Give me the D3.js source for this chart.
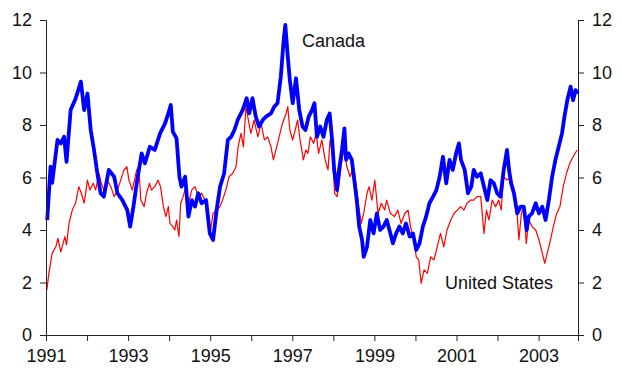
<!DOCTYPE html>
<html>
<head>
<meta charset="utf-8">
<script src="https://cdn.jsdelivr.net/npm/d3@7"></script>
<style>
  body { margin: 0; background: #fff; }
  svg { display: block; font-family: Arial, "Liberation Sans", sans-serif; }
</style>
</head>
<body>
<svg width="622" height="371"></svg>
<script>
var width = 622;
var height = 371;

// Canada (blue, thick)
var canadaYears = [1991.03, 1991.11, 1991.15, 1991.28, 1991.36, 1991.44, 1991.50, 1991.60, 1991.72, 1991.85,
  1991.93, 1992.01, 1992.09, 1992.17, 1992.25, 1992.33, 1992.41, 1992.53, 1992.66, 1992.74,
  1992.86, 1992.98, 1993.05, 1993.13, 1993.21, 1993.33, 1993.41, 1993.53, 1993.65, 1993.78,
  1993.90, 1993.98, 1994.04, 1994.09, 1994.18, 1994.25, 1994.30, 1994.39, 1994.47, 1994.55,
  1994.63, 1994.71, 1994.79, 1994.90, 1994.99, 1995.07, 1995.16, 1995.24, 1995.34, 1995.43,
  1995.51, 1995.59, 1995.67, 1995.79, 1995.89, 1995.95, 1996.03, 1996.11, 1996.19, 1996.28,
  1996.36, 1996.48, 1996.56, 1996.64, 1996.72, 1996.79, 1996.83, 1996.89, 1996.94, 1997.01,
  1997.09, 1997.17, 1997.25, 1997.32, 1997.40, 1997.48, 1997.54, 1997.60, 1997.68, 1997.76,
  1997.84, 1997.91, 1997.97, 1998.02, 1998.09, 1998.14, 1998.21, 1998.27, 1998.31, 1998.37,
  1998.45, 1998.52, 1998.57, 1998.63, 1998.70, 1998.74, 1998.82, 1998.90, 1998.98, 1999.06,
  1999.14, 1999.22, 1999.30, 1999.39, 1999.45, 1999.53, 1999.61, 1999.69, 1999.77, 1999.86,
  1999.94, 2000.02, 2000.10, 2000.18, 2000.26, 2000.34, 2000.43, 2000.51, 2000.59, 2000.67,
  2000.75, 2000.83, 2000.91, 2000.99, 2001.06, 2001.11, 2001.20, 2001.28, 2001.36, 2001.42,
  2001.50, 2001.59, 2001.67, 2001.75, 2001.83, 2001.91, 2001.99, 2002.07, 2002.15, 2002.23,
  2002.28, 2002.33, 2002.40, 2002.48, 2002.56, 2002.64, 2002.71, 2002.76, 2002.84, 2002.93,
  2003.01, 2003.09, 2003.17, 2003.25, 2003.33, 2003.41, 2003.49, 2003.57, 2003.63, 2003.70,
  2003.78, 2003.84, 2003.90, 2003.96];
var canadaRates = [4.38, 6.41, 5.80, 7.43, 7.30, 7.55, 6.60, 8.57, 9.00, 9.65,
  8.57, 9.20, 7.80, 7.05, 6.17, 5.40, 5.27, 6.29, 6.03, 5.40,
  5.14, 4.76, 4.13, 4.89, 5.78, 6.92, 6.54, 7.17, 7.05, 7.68,
  8.06, 8.44, 8.76, 7.75, 7.49, 6.03, 5.65, 6.03, 4.51, 5.14,
  4.89, 5.40, 5.02, 5.14, 3.87, 3.62, 4.80, 5.65, 6.16, 7.43,
  7.55, 7.81, 8.19, 8.57, 9.02, 8.44, 9.02, 8.32, 7.94, 8.19,
  8.32, 8.44, 8.70, 8.83, 9.84, 11.24, 11.81, 10.60, 9.71, 8.83,
  9.78, 8.57, 7.94, 7.81, 8.32, 8.57, 8.83, 7.55, 7.94, 7.55,
  8.19, 8.44, 7.43, 6.29, 5.52, 6.29, 7.05, 7.87, 6.67, 6.92,
  6.67, 5.78, 5.14, 4.13, 3.62, 2.98, 3.36, 4.38, 3.87, 4.63,
  4.00, 4.13, 4.38, 3.87, 3.49, 3.87, 4.13, 3.87, 4.25, 3.75,
  3.87, 3.24, 3.49, 4.13, 4.51, 5.02, 5.27, 5.52, 6.03, 6.79,
  5.78, 6.67, 6.29, 6.92, 7.30, 6.67, 6.29, 5.40, 5.65, 6.29,
  6.03, 6.16, 5.65, 5.14, 5.90, 5.78, 5.40, 5.27, 6.29, 7.05,
  6.29, 5.78, 5.40, 4.63, 4.89, 4.89, 4.00, 4.51, 4.63, 5.02,
  4.63, 4.89, 4.38, 5.14, 6.03, 6.67, 7.17, 7.68, 8.32, 8.95,
  9.46, 8.95, 9.33, 9.20];

// United States (red, thin)
var usYears = [1991.02, 1991.07, 1991.15, 1991.24, 1991.29, 1991.36, 1991.46, 1991.50, 1991.56, 1991.64,
  1991.72, 1991.80, 1991.86, 1991.93, 1992.01, 1992.07, 1992.15, 1992.21, 1992.29, 1992.35,
  1992.41, 1992.49, 1992.58, 1992.66, 1992.74, 1992.82, 1992.90, 1992.97, 1993.02, 1993.10,
  1993.21, 1993.26, 1993.31, 1993.39, 1993.45, 1993.52, 1993.57, 1993.65, 1993.73, 1993.79,
  1993.86, 1993.92, 1993.98, 1994.02, 1994.09, 1994.14, 1994.18, 1994.24, 1994.28, 1994.34,
  1994.41, 1994.47, 1994.55, 1994.63, 1994.71, 1994.79, 1994.87, 1994.95, 1995.01, 1995.07,
  1995.16, 1995.24, 1995.30, 1995.38, 1995.46, 1995.55, 1995.63, 1995.68, 1995.75, 1995.81,
  1995.87, 1995.93, 1995.99, 1996.07, 1996.16, 1996.24, 1996.32, 1996.40, 1996.48, 1996.54,
  1996.62, 1996.70, 1996.76, 1996.85, 1996.89, 1996.94, 1997.01, 1997.07, 1997.13, 1997.19,
  1997.27, 1997.33, 1997.38, 1997.44, 1997.52, 1997.58, 1997.64, 1997.72, 1997.80, 1997.87,
  1997.92, 1997.98, 1998.03, 1998.09, 1998.14, 1998.21, 1998.26, 1998.33, 1998.41, 1998.49,
  1998.55, 1998.62, 1998.68, 1998.74, 1998.82, 1998.87, 1998.94, 1999.01, 1999.09, 1999.17,
  1999.25, 1999.30, 1999.39, 1999.49, 1999.57, 1999.65, 1999.74, 1999.82, 1999.88, 1999.96,
  2000.02, 2000.08, 2000.14, 2000.21, 2000.29, 2000.37, 2000.45, 2000.53, 2000.61, 2000.69,
  2000.77, 2000.86, 2000.94, 2001.02, 2001.10, 2001.18, 2001.26, 2001.34, 2001.42, 2001.50,
  2001.59, 2001.67, 2001.73, 2001.79, 2001.87, 2001.95, 2002.03, 2002.09, 2002.15, 2002.23,
  2002.32, 2002.40, 2002.46, 2002.52, 2002.58, 2002.64, 2002.70, 2002.76, 2002.84, 2002.93,
  2003.01, 2003.07, 2003.15, 2003.21, 2003.27, 2003.36, 2003.44, 2003.52, 2003.60, 2003.68,
  2003.76, 2003.84, 2003.94];
var usRates = [1.71, 2.35, 3.11, 3.36, 3.68, 3.17, 3.75, 3.43, 4.25, 4.76,
  5.02, 5.65, 5.40, 5.02, 5.90, 5.52, 5.78, 5.52, 6.16, 5.78,
  5.52, 5.90, 5.65, 5.27, 5.52, 5.90, 6.29, 6.41, 5.90, 5.52,
  6.29, 6.41, 5.14, 4.89, 5.40, 5.78, 5.52, 5.65, 5.90, 5.65,
  4.89, 4.51, 4.89, 4.25, 4.13, 4.00, 4.38, 3.75, 5.02, 5.27,
  5.65, 5.02, 5.52, 5.65, 5.27, 5.40, 5.14, 4.63, 4.00, 4.63,
  4.76, 4.89, 5.14, 5.52, 6.03, 6.16, 6.41, 7.17, 7.68, 7.17,
  8.70, 8.19, 7.68, 8.19, 7.55, 8.06, 7.43, 7.55, 7.17, 6.67,
  7.17, 7.68, 8.06, 8.44, 8.70, 7.81, 7.43, 7.81, 8.19, 7.43,
  6.67, 7.05, 6.92, 7.55, 7.30, 7.68, 6.92, 7.43, 6.67, 6.29,
  7.43, 6.92, 5.40, 5.27, 5.78, 6.67, 7.05, 6.41, 6.03, 6.41,
  5.78, 4.89, 4.25, 4.63, 5.40, 5.65, 5.14, 5.90, 4.63, 5.02,
  4.76, 5.14, 4.63, 4.51, 4.76, 4.25, 4.63, 4.76, 4.13, 3.62,
  2.98, 2.86, 1.97, 2.48, 2.35, 2.98, 2.86, 3.36, 3.87, 3.36,
  4.00, 4.38, 4.63, 4.76, 4.89, 4.76, 5.02, 5.14, 5.14, 5.27,
  5.27, 3.87, 4.76, 4.38, 5.14, 4.89, 5.14, 4.76, 6.03, 5.90,
  6.03, 5.52, 5.02, 3.62, 4.63, 4.89, 3.49, 4.38, 4.13, 4.00,
  3.62, 3.24, 2.73, 3.11, 3.49, 4.13, 4.63, 4.89, 5.65, 6.16,
  6.54, 6.79, 7.05];

var yTicks = [0, 2, 4, 6, 8, 10, 12];
var xTickYears = d3.range(1991, 2004);
var labelYears = [1991, 1993, 1995, 1997, 1999, 2001, 2003];

var canada = canadaYears.map((t, i) => ({t: t, v: canadaRates[i]}));
var us = usYears.map((t, i) => ({t: t, v: usRates[i]}));

var x = d3.scaleLinear()
          .domain([1991, 2003.96])
          .range([46, 578]);
var y = d3.scaleLinear()
          .domain([0, 12])
          .range([335, 20]);

var svg = d3.select('svg');

var line = d3.line()
             .x(d => x(d.t))
             .y(d => y(d.v));

svg.append('path')
    .datum(us)
    .attr('fill', 'none')
    .attr('stroke', '#ff0000')
    .attr('stroke-width', 1.2)
    .attr('stroke-linejoin', 'round')
    .attr('d', line);

svg.append('path')
    .datum(canada)
    .attr('fill', 'none')
    .attr('stroke', '#0000ff')
    .attr('stroke-width', 3.8)
    .attr('stroke-linejoin', 'round')
    .attr('d', line);

//Axes
var leftAxis = d3.axisLeft(y).tickValues(yTicks).tickSize(6).tickPadding(8);
var rightAxis = d3.axisRight(y).tickValues(yTicks).tickSize(6).tickPadding(8);
var bottomAxis = d3.axisBottom(x)
                   .tickValues(xTickYears)
                   .tickSize(6)
                   .tickPadding(8)
                   .tickFormat(d => labelYears.indexOf(d) >= 0 ? d : '');

svg.append('g')
    .attr('transform', 'translate(46,0)')
    .call(leftAxis);
svg.append('g')
    .attr('transform', 'translate(578,0)')
    .call(rightAxis);
svg.append('g')
    .attr('transform', 'translate(0,335)')
    .call(bottomAxis);

svg.selectAll('.domain, .tick line')
    .attr('stroke', '#222');
svg.selectAll('.tick text')
    .attr('fill', '#111')
    .style('font-size', '18px')
    .style('font-family', 'Arial, "Liberation Sans", sans-serif');

//Series labels
svg.append('text')
    .attr('x', 302)
    .attr('y', 46.5)
    .style('font-size', '18px')
    .attr('fill', '#111')
    .text('Canada');
svg.append('text')
    .attr('x', 445)
    .attr('y', 288.5)
    .style('font-size', '18px')
    .attr('fill', '#111')
    .text('United States');
</script>
</body>
</html>
